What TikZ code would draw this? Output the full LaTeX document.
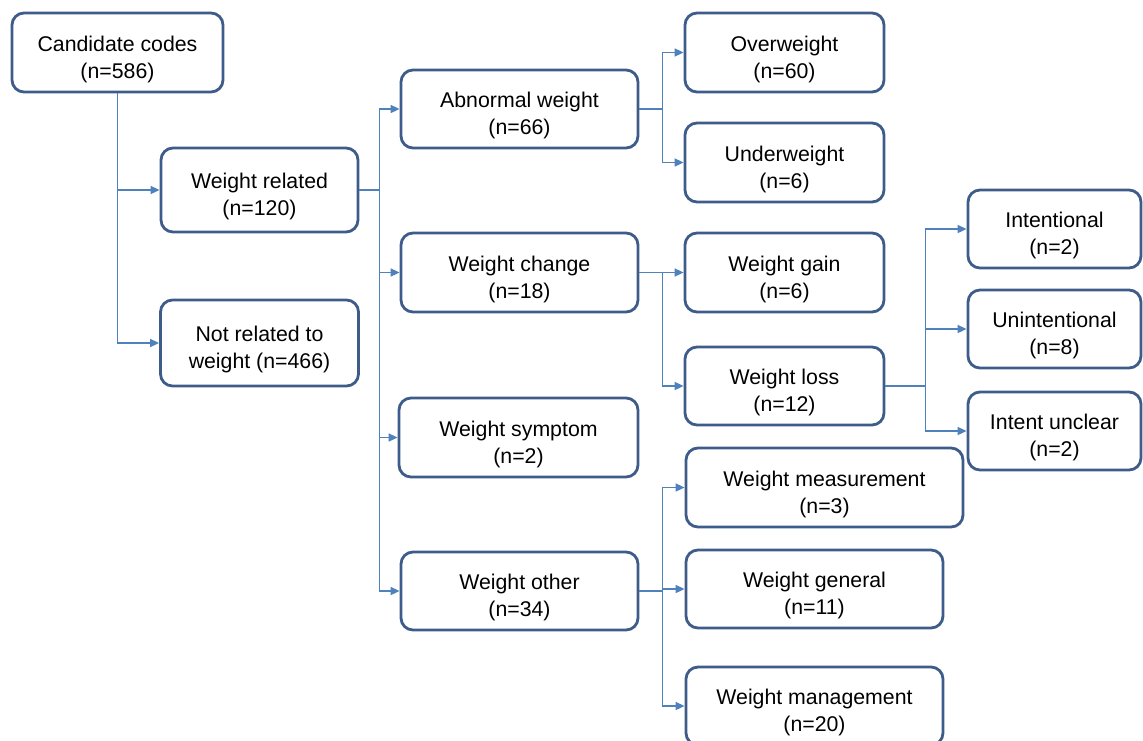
\documentclass[tikz,border=0pt]{standalone}
\usepackage{fontspec}
\setmainfont{Liberation Sans}
\usepackage{tikz}
\usetikzlibrary{arrows.meta}

\definecolor{boxblue}{RGB}{61,92,137}
\definecolor{linkblue}{RGB}{79,129,189}

\tikzset{
    codebox/.style={draw=boxblue, line width=1.4pt, rounded corners=6pt,
        align=center, inner sep=0pt, font=\fontsize{10.65}{13.5}\selectfont,
        text height=27.8pt},
    link/.style={draw=linkblue, line width=0.8pt,
        -{Triangle[length=4.5pt,width=4pt]}}
}

\begin{document}
\begin{tikzpicture}[x=0.5pt, y=-0.5pt]
    \useasboundingbox (0,0) rectangle (1143,740);
    \clip (0,0) rectangle (1143,740);
    % first level
    \node[codebox, minimum width=105.5pt, minimum height=39.5pt] (cand) at (117.5, 52.5) {Candidate codes\\(n=586)};
    \node[codebox, minimum width=98.5pt,  minimum height=42pt]   (wrel) at (259.5,190)   {Weight related\\(n=120)};
    \node[codebox, minimum width=99pt,    minimum height=43pt]   (nrel) at (259.5,343)   {Not related to\\weight (n=466)};
    % weight related
    \node[codebox, minimum width=118.5pt, minimum height=39pt]   (abn)  at (519.5,109)   {Abnormal weight\\(n=66)};
    \node[codebox, minimum width=118.5pt, minimum height=39.5pt] (wchg) at (519.5,272.5) {Weight change\\(n=18)};
    \node[codebox, minimum width=119.5pt, minimum height=39.5pt] (wsym) at (518.5,437.5) {Weight symptom\\(n=2)};
    \node[codebox, minimum width=118.5pt, minimum height=39pt]   (woth) at (519.5,591)   {Weight other\\(n=34)};
    % third level
    \node[codebox, minimum width=99.5pt,  minimum height=39.5pt] (over)  at (784.5, 52.5) {Overweight\\(n=60)};
    \node[codebox, minimum width=99.5pt,  minimum height=39.5pt] (under) at (784.5,162.5) {Underweight\\(n=6)};
    \node[codebox, minimum width=99.5pt,  minimum height=39.5pt] (gain)  at (784.5,272.5) {Weight gain\\(n=6)};
    \node[codebox, minimum width=99.5pt,  minimum height=39pt]   (loss)  at (784.5,386)   {Weight loss\\(n=12)};
    \node[codebox, minimum width=138.5pt, minimum height=39.5pt] (meas)  at (824.5,487.5) {Weight measurement\\(n=3)};
    \node[codebox, minimum width=128.5pt, minimum height=39pt]   (gen)   at (814.5,589)   {Weight general\\(n=11)};
    \node[codebox, minimum width=128.5pt, minimum height=39pt]   (mgmt)  at (814.5,706)   {Weight management\\(n=20)};
    % weight loss
    \node[codebox, minimum width=86.5pt,  minimum height=39pt]   (inten) at (1054.5,229) {Intentional\\(n=2)};
    \node[codebox, minimum width=86.5pt,  minimum height=39pt]   (unint) at (1054.5,329) {Unintentional\\(n=8)};
    \node[codebox, minimum width=86.5pt,  minimum height=39pt]   (uncl)  at (1054.5,431) {Intent unclear\\(n=2)};
    % connectors
    \draw[link] (cand.south) |- (wrel.west);
    \draw[link] (cand.south) |- (nrel.west);
    \draw[link] (wrel.east) -- ++(20,0) |- (abn.west);
    \draw[link] (wrel.east) -- ++(20,0) |- (wchg.west);
    \draw[link] (wrel.east) -- ++(20,0) |- (wsym.west);
    \draw[link] (wrel.east) -- ++(20,0) |- (woth.west);
    \draw[link] (abn.east) -- ++(23,0) |- (over.west);
    \draw[link] (abn.east) -- ++(23,0) |- (under.west);
    \draw[link] (wchg.east) -- ++(23,0) |- (gain.west);
    \draw[link] (wchg.east) -- ++(23,0) |- (loss.west);
    \draw[link] (loss.east) -- ++(40,0) |- (inten.west);
    \draw[link] (loss.east) -- ++(40,0) |- (unint.west);
    \draw[link] (loss.east) -- ++(40,0) |- (uncl.west);
    \draw[link] (woth.east) -- ++(23,0) |- (meas.west);
    \draw[link] (woth.east) -- ++(23,0) |- (gen.west);
    \draw[link] (woth.east) -- ++(23,0) |- (mgmt.west);
\end{tikzpicture}
\end{document}
